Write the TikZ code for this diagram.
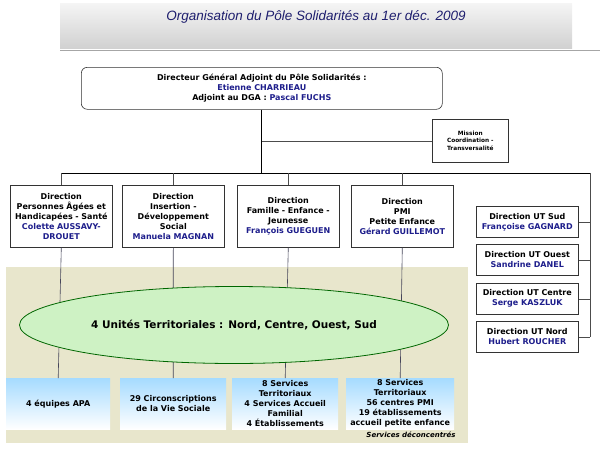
\documentclass[tikz,border=0pt]{standalone}
\usepackage{fontspec}
\setmainfont{DejaVu Sans}
\newfontfamily\titlefont{Liberation Sans}
\usetikzlibrary{positioning,shapes.geometric,calc}
\definecolor{nameblue}{RGB}{30,30,140}
\definecolor{titleblue}{RGB}{30,30,110}
\definecolor{beige}{RGB}{232,230,204}
\definecolor{ovalgreen}{RGB}{206,242,196}
\definecolor{linegray}{RGB}{70,70,90}
\newcommand{\who}[1]{\textcolor{nameblue}{#1}}
\tikzset{
  dirbox/.style={draw=black!80,fill=white,line width=0.6pt,inner sep=1pt,
    font=\bfseries\fontsize{8}{10}\selectfont,align=center,anchor=north west},
  utbox/.style={dirbox,minimum width=102pt,minimum height=31pt},
  unitbox/.style={inner sep=1pt,top color=blue!40!cyan!35,bottom color=white,
    font=\bfseries\fontsize{8}{10}\selectfont,align=center,anchor=north west},
  link/.style={draw=linegray,line width=0.6pt},
}
\begin{document}
\begin{tikzpicture}[x=1pt,y=-1pt]
	\useasboundingbox (0,0) rectangle (600,450);
	% title band
	\shade[top color=black!4,bottom color=black!18] (60,3) rectangle (572,48);
	\node[font=\titlefont\itshape\fontsize{13.5}{15}\selectfont,text=titleblue] (title) at (316,17) {Organisation du Pôle Solidarités au 1er déc. 2009};
	\draw[black!35] (60,50) -- (600,50);
	% services deconcentres
	\fill[beige] (6,267) rectangle (468,443);
	\node[font=\itshape\bfseries\fontsize{7}{8}\selectfont,anchor=south east] (sd) at (459,441) {Services déconcentrés};
	
	\node[dirbox,rounded corners=6pt,minimum width=361pt,minimum height=42pt] (dga) at (81,67) {Directeur Général Adjoint du Pôle Solidarités :\\ \who{Etienne CHARRIEAU}\\ Adjoint au DGA : \who{Pascal FUCHS}};
	\node[dirbox,minimum width=76pt,minimum height=43pt,font=\bfseries\fontsize{5.8}{7.5}\selectfont] (mis) at (432,119) {Mission\\ Coordination -\\ Transversalité};
	
	\node[dirbox,minimum width=102pt,minimum height=62pt,text width=100pt] (d1) at (10,185) {Direction\\ Personnes Âgées et Handicapées - Santé\\ \who{Colette AUSSAVY-DROUET}};
	\node[dirbox,minimum width=102pt,minimum height=62pt,text width=100pt] (d2) at (122,185) {Direction\\ Insertion -\\ Développement\\ Social\\ \who{Manuela MAGNAN}};
	\node[dirbox,minimum width=102pt,minimum height=62pt,text width=100pt] (d3) at (237,185) {Direction\\ Famille - Enfance -\\ Jeunesse\\ \who{François GUEGUEN}};
	\node[dirbox,minimum width=102pt,minimum height=62pt,text width=100pt] (d4) at (351,185) {Direction\\ PMI\\ Petite Enfance\\ \who{Gérard GUILLEMOT}};
	
	\node[utbox] (ut1) at (476,206) {Direction UT Sud\\ \who{Françoise GAGNARD}};
	\node[utbox] (ut2) at (476,244) {Direction UT Ouest\\ \who{Sandrine DANEL}};
	\node[utbox] (ut3) at (476,283) {Direction UT Centre\\ \who{Serge KASZLUK}};
	\node[utbox] (ut4) at (476,321) {Direction UT Nord\\ \who{Hubert ROUCHER}};
	
	\node[unitbox,minimum width=104pt,minimum height=51pt] (u1) at (6,378) {4 équipes APA};
	\node[unitbox,minimum width=106pt,minimum height=51pt] (u2) at (120,378) {29 Circonscriptions\\ de la Vie Sociale};
	\node[unitbox,minimum width=106pt,minimum height=51pt] (u3) at (232,378) {8 Services\\ Territoriaux\\ 4 Services Accueil\\ Familial\\ 4 Établissements};
	\node[unitbox,minimum width=108pt,minimum height=51pt] (u4) at (346,378) {8 Services\\ Territoriaux\\ 56 centres PMI\\ 19 établissements\\ accueil petite enfance};
	
	% links through the oval
	\foreach \i in {1,...,4}
		\draw[link] (d\i.south) -- (u\i.north);
	\node[ellipse,draw=black!60!green,line width=0.8pt,fill=ovalgreen,minimum width=429pt,minimum height=77pt,font=\bfseries\fontsize{10.5}{12}\selectfont] (ut) at (234,325) {4 Unités Territoriales : Nord, Centre, Ouest, Sud};
	
	% hierarchy
	\coordinate (bus) at (dga.south |- 0,173);
	\coordinate (busend) at (590,173);
	\draw[black,line width=1pt] (dga.south) -- (bus);
	\draw[black!70] (dga.south |- mis.west) -- (mis.west);
	\draw[black,line width=0.8pt] (d1.north |- bus) -- (busend);
	\foreach \i in {1,...,4}
		\draw[black!70] (d\i.north |- bus) -- (d\i.north);
	\draw[black!70] (busend) -- (busend |- ut4.east);
	\foreach \i in {1,...,4}
		\draw[black!70] (ut\i.east) -- (busend |- ut\i.east);
\end{tikzpicture}
\end{document}
